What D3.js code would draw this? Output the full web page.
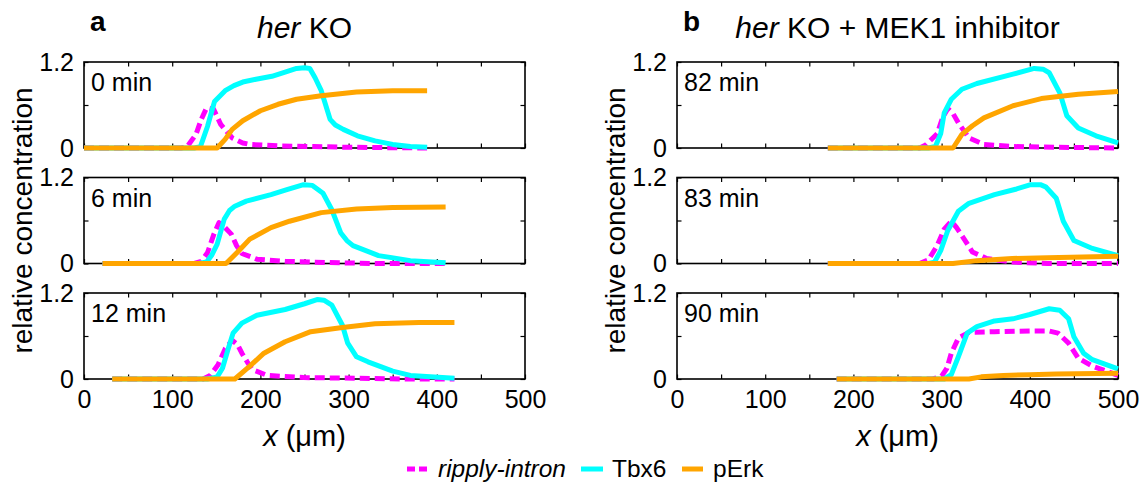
<!DOCTYPE html>
<html>
<head>
<meta charset="utf-8">
<script src="https://cdn.jsdelivr.net/npm/d3@7"></script>
<style>
  body { margin: 0; background: #fff; }
  svg text { font-family: "Liberation Sans", Arial, Helvetica, sans-serif; fill: #000; }
</style>
</head>
<body>
<script>
// data: [x (um), relative concentration]
var ripplyA0 = [[0,0],[110,0],[117,0.02],[127,0.19],[133,0.4],[139,0.56],[147,0.54],[155,0.33],[168,0.14],[180,0.07],[188,0.05],[220,0.03],[260,0.02],[300,0.01],[389,0]];
var tbx6A0 = [[0,0],[125,0],[132,0.02],[140,0.3],[148,0.65],[160,0.8],[170,0.87],[180,0.92],[195,0.96],[213,1.0],[228,1.06],[241,1.11],[250,1.12],[256,1.11],[262,0.98],[269,0.8],[279,0.4],[285,0.32],[294,0.26],[310,0.17],[330,0.1],[350,0.05],[370,0.02],[389,0.01]];
var perkA0 = [[0,0],[151,0],[160,0.12],[168,0.26],[180,0.38],[200,0.52],[220,0.61],[241,0.68],[269,0.73],[309,0.78],[350,0.8],[389,0.8]];

var ripplyA1 = [[21,0],[125,0],[133,0.03],[140,0.15],[147,0.4],[153,0.57],[160,0.5],[167,0.41],[173,0.25],[179,0.14],[196,0.06],[228,0.03],[289,0.01],[330,0],[410,0]];
var tbx6A1 = [[21,0],[130,0],[139,0.02],[145,0.12],[151,0.27],[159,0.62],[165,0.74],[171,0.8],[184,0.87],[212,0.96],[230,1.03],[249,1.1],[259,1.09],[271,0.98],[281,0.75],[291,0.43],[298,0.32],[305,0.25],[334,0.11],[370,0.04],[410,0.01]];
var perkA1 = [[21,0],[161,0],[175,0.17],[188,0.34],[212,0.5],[233,0.59],[269,0.71],[309,0.76],[350,0.78],[410,0.79]];

var ripplyA2 = [[32,0],[135,0],[143,0.05],[152,0.2],[160,0.42],[168,0.54],[174,0.48],[179,0.36],[185,0.24],[191,0.13],[208,0.05],[249,0.02],[309,0.01],[360,0],[420,0]];
var tbx6A2 = [[32,0],[140,0],[151,0.03],[157,0.15],[163,0.4],[169,0.64],[179,0.78],[196,0.89],[228,0.97],[250,1.05],[265,1.11],[272,1.1],[281,1.03],[293,0.75],[299,0.5],[309,0.31],[322,0.24],[350,0.11],[370,0.05],[420,0.01]];
var perkA2 = [[32,0],[171,0],[188,0.18],[204,0.36],[228,0.52],[257,0.66],[293,0.72],[330,0.77],[380,0.79],[420,0.79]];

var ripplyB0 = [[171,0],[275,0],[282,0.04],[295,0.2],[301,0.42],[307,0.55],[313,0.48],[319,0.35],[331,0.14],[348,0.05],[381,0.02],[430,0.01],[500,0]];
var tbx6B0 = [[171,0],[285,0],[293,0.02],[299,0.2],[303,0.49],[311,0.68],[323,0.82],[340,0.9],[381,1.03],[405,1.11],[415,1.1],[422,1.05],[434,0.77],[442,0.45],[455,0.28],[475,0.17],[500,0.07]];
var perkB0 = [[171,0],[313,0],[323,0.19],[335,0.31],[348,0.42],[381,0.59],[413,0.69],[455,0.75],[500,0.79]];

var ripplyB1 = [[171,0],[275,0],[285,0.05],[295,0.25],[303,0.48],[311,0.59],[317,0.5],[323,0.39],[335,0.16],[351,0.07],[380,0.02],[420,0],[500,0]];
var tbx6B1 = [[171,0],[285,0],[292,0.02],[299,0.18],[307,0.46],[319,0.73],[331,0.84],[360,0.96],[385,1.04],[401,1.1],[412,1.1],[418,1.07],[430,0.91],[438,0.59],[450,0.32],[471,0.21],[500,0.11]];
var perkB1 = [[171,0],[313,0],[340,0.04],[380,0.07],[420,0.08],[460,0.09],[500,0.1]];

var ripplyB2 = [[181,0],[290,0],[300,0.04],[306,0.15],[311,0.36],[319,0.57],[331,0.65],[360,0.66],[400,0.67],[422,0.67],[432,0.64],[444,0.5],[455,0.29],[471,0.18],[500,0.05]];
var tbx6B2 = [[181,0],[303,0],[311,0.06],[319,0.31],[329,0.64],[340,0.73],[360,0.81],[381,0.84],[400,0.9],[422,0.98],[434,0.96],[444,0.84],[450,0.59],[461,0.36],[471,0.27],[500,0.14]];
var perkB2 = [[181,0],[331,0],[345,0.03],[370,0.05],[400,0.06],[430,0.07],[500,0.08]];

var timeLabels = [["0 min", "6 min", "12 min"], ["82 min", "83 min", "90 min"]];
var xTickValues = [0, 50, 100, 150, 200, 250, 300, 350, 400, 450, 500];
var yTickValues = [0, 0.6, 1.2];
var seriesNames = ["ripply-intron", "Tbx6", "pErk"];

var panels = [
    [[ripplyA0, tbx6A0, perkA0], [ripplyA1, tbx6A1, perkA1], [ripplyA2, tbx6A2, perkA2]],
    [[ripplyB0, tbx6B0, perkB0], [ripplyB1, tbx6B1, perkB1], [ripplyB2, tbx6B2, perkB2]]
];

var colors = ["#ff00ff", "#00ffff", "#ffa500"];
var dashes = ["10,5", null, null];

var w = 1146, h = 485;
var colX = [[84, 525], [677, 1118]];
var rowTop = [62, 177.5, 293];
var ph = 86;

var svg = d3.select("body").append("svg")
    .attr("width", w)
    .attr("height", h);

panels.forEach(function(col, c){
    var x = d3.scaleLinear().domain([0, 500]).range(colX[c]);

    col.forEach(function(series, r){
        var top = rowTop[r], bottom = top + ph;
        var y = d3.scaleLinear().domain([0, 1.2]).range([bottom, top]);
        var g = svg.append("g");

        // ticks pointing inward on all four sides
        var bottomAxis = d3.axisBottom(x).tickValues(xTickValues).tickSize(-4.5).tickPadding(11)
            .tickFormat(function(d){ return (r == 2 && d % 100 == 0) ? d : ""; });
        var topAxis = d3.axisTop(x).tickValues(xTickValues).tickSize(-4.5).tickFormat("");
        var leftAxis = d3.axisLeft(y).tickValues(yTickValues).tickSize(-4.5).tickPadding(10)
            .tickFormat(function(d){ return d == 0.6 ? "" : (d == 0 ? "0" : "1.2"); });
        var rightAxis = d3.axisRight(y).tickValues(yTickValues).tickSize(-4.5).tickFormat("");

        g.append("g").attr("transform", "translate(0," + bottom + ")").call(bottomAxis);
        g.append("g").attr("transform", "translate(0," + top + ")").call(topAxis);
        g.append("g").attr("transform", "translate(" + colX[c][0] + ",0)").call(leftAxis);
        g.append("g").attr("transform", "translate(" + colX[c][1] + ",0)").call(rightAxis);
        g.selectAll(".domain").remove();
        g.selectAll(".tick line").attr("stroke", "#000").attr("stroke-width", 1.2);
        g.selectAll(".tick text").style("font-size", "25px")
            .style("font-family", "'Liberation Sans', Arial, sans-serif");

        // frame
        g.append("rect")
            .attr("x", colX[c][0])
            .attr("y", top)
            .attr("width", colX[c][1] - colX[c][0])
            .attr("height", ph)
            .attr("fill", "none")
            .attr("stroke", "#000")
            .attr("stroke-width", 1.6);

        var line = d3.line()
            .x(function(d){ return x(d[0]); })
            .y(function(d){ return y(d[1]); });

        series.forEach(function(s, i){
            g.append("path")
                .datum(s)
                .attr("d", line)
                .attr("fill", "none")
                .attr("stroke", colors[i])
                .attr("stroke-width", 5)
                .attr("stroke-dasharray", dashes[i])
                .attr("stroke-linejoin", "round");
        });

        g.append("text")
            .attr("x", colX[c][0] + 7)
            .attr("y", top + 29)
            .style("font-size", "25px")
            .text(timeLabels[c][r]);
    });

    var mid = (colX[c][0] + colX[c][1]) / 2;

    // y axis title
    svg.append("text")
        .attr("transform", "translate(" + (colX[c][0] - 52) + "," + (rowTop[0] + rowTop[2] + ph) / 2 + ") rotate(-90)")
        .attr("text-anchor", "middle")
        .style("font-size", "28px")
        .text("relative concentration");

    // x axis title
    var xt = svg.append("text")
        .attr("x", mid)
        .attr("y", 446)
        .attr("text-anchor", "middle")
        .style("font-size", "29px");
    xt.append("tspan").style("font-style", "italic").text("x");
    xt.append("tspan").text(" (\u03bcm)");

    // panel title
    var tt = svg.append("text")
        .attr("x", mid)
        .attr("y", 38)
        .attr("text-anchor", "middle")
        .style("font-size", "30px");
    tt.append("tspan").style("font-style", "italic").text("her");
    tt.append("tspan").text(c == 0 ? " KO" : " KO + MEK1 inhibitor");

    svg.append("text")
        .attr("x", colX[c][0] + 6)
        .attr("y", 31)
        .style("font-size", "28px")
        .style("font-weight", "bold")
        .text(c == 0 ? "a" : "b");
});

// legend
var legendX = [[407, 427, 438], [581, 603, 612], [682, 703, 713]];
var legend = svg.append("g");
seriesNames.forEach(function(name, i){
    legend.append("line")
        .attr("x1", legendX[i][0])
        .attr("x2", legendX[i][1])
        .attr("y1", 469)
        .attr("y2", 469)
        .attr("stroke", colors[i])
        .attr("stroke-width", 5)
        .attr("stroke-dasharray", i == 0 ? "8,4" : null);
    legend.append("text")
        .attr("x", legendX[i][2])
        .attr("y", 477)
        .style("font-size", "24.5px")
        .style("font-style", i == 0 ? "italic" : "normal")
        .text(name);
});
</script>
</body>
</html>
